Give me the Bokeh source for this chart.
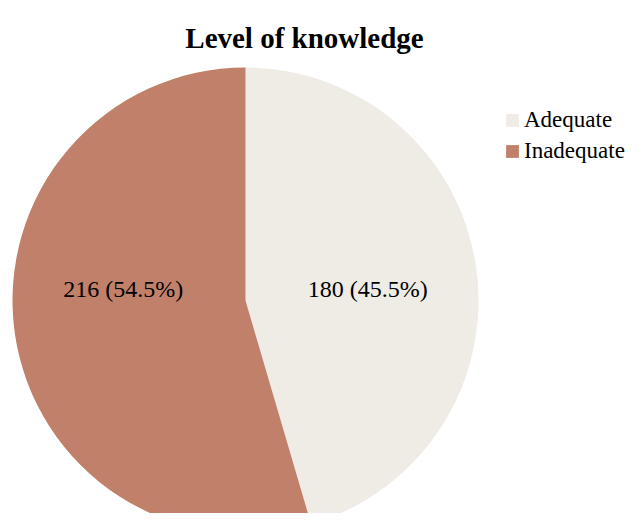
import math
from bokeh.plotting import figure
from bokeh.models import ColumnDataSource, Range1d, Label, Legend, LegendItem
from bokeh.core.properties import value
from bokeh.embed import file_html
from bokeh.resources import INLINE

title_text = "Level of knowledge"
categories = ["Adequate", "Inadequate"]
counts = [180, 216]
colors = ["#EFECE5", "#C0806A"]

W, H = 627, 513
cx, cy, r = 245, 213, 233
FONT = "Liberation Serif"

total = sum(counts)
starts, ends, labels, lx, ly = [], [], [], [], []
acc = 0.0
for c in counts:
    a0 = math.pi / 2 - 2 * math.pi * acc / total
    acc += c
    a1 = math.pi / 2 - 2 * math.pi * acc / total
    starts.append(a0)
    ends.append(a1)
    mid = (a0 + a1) / 2
    labels.append(f"{c} ({100 * c / total:.1f}%)")
    lx.append(cx + 0.53 * r * math.cos(mid))
    ly.append(cy + 12)

src = ColumnDataSource(dict(cat=categories, start=starts, end=ends, color=colors,
                            label=labels, lx=lx, ly=ly))

p = figure(width=W, height=H, output_backend="svg", toolbar_location=None,
           x_range=Range1d(0, W), y_range=Range1d(0, H), min_border=0)
p.axis.visible = False
p.grid.visible = False
p.outline_line_color = None
p.background_fill_color = "white"

wr = p.wedge(x=cx, y=cy, radius=r, start_angle="start", end_angle="end",
             direction="clock", fill_color="color", line_color=None, source=src)

p.text(x="lx", y="ly", text="label", source=src, text_align="center",
       text_baseline="middle", text_font=value(FONT), text_font_size="24px",
       text_color="black")

p.add_layout(Label(x=304, y=476, x_units="screen", y_units="screen", text=title_text,
                   text_font=FONT, text_font_size="29px", text_font_style="bold",
                   text_align="center", text_baseline="alphabetic", text_color="black"))

items = [LegendItem(label=categories[i], renderers=[wr], index=i) for i in range(len(categories))]
legend = Legend(items=items, location=(504, 349), orientation="vertical",
                label_text_font=FONT, label_text_font_size="23px", label_text_color="black",
                glyph_width=16, glyph_height=16, label_standoff=4, spacing=5,
                padding=0, margin=0, border_line_color=None, background_fill_alpha=0)
p.add_layout(legend)

open("out.html", "w").write(file_html(p, INLINE))
